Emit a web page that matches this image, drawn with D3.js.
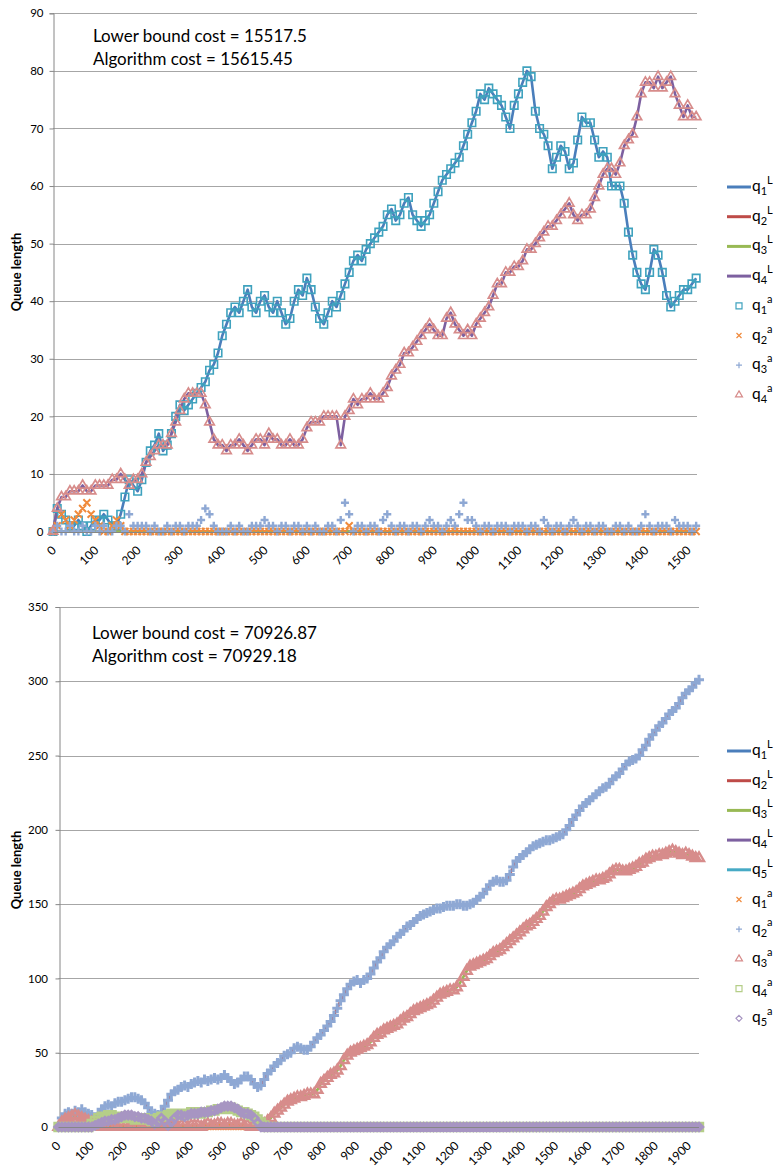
<!DOCTYPE html>
<html><head><meta charset="utf-8">
<script src="https://cdn.jsdelivr.net/npm/d3@7"></script>
<style>body{margin:0;background:#fff}svg{display:block}text{font-family:Lato,"Open Sans",sans-serif;fill:#000}</style>
</head><body><svg id="c" width="776" height="1167"></svg>
<script>
// ---------------- DATA (sampled every 10 time steps) ----------------
const topStep = 10;
const topYTicks = [0,10,20,30,40,50,60,70,80,90];
const topXTicks = [0,100,200,300,400,500,600,700,800,900,1000,1100,1200,1300,1400,1500];
const topText = ["Lower bound cost = 15517.5", "Algorithm cost = 15615.45"];
const topQ1 = [
0,4,3,2,1,1,2,1,0,1, 2,2,3,2,1,1,3,6,9,8, 7,9,12,14,15,17,14,15,17,20,
22,21,22,23,24,25,26,28,29,31, 34,36,38,39,38,40,42,39,38,40, 41,39,38,40,38,36,37,40,42,41,
44,42,39,37,36,38,40,39,41,43, 45,47,48,47,49,50,51,52,53,55, 56,54,55,57,58,55,54,53,54,55,
57,59,61,62,63,64,65,67,69,71, 73,76,75,77,76,75,74,72,70,74, 76,78,80,79,73,70,69,67,63,65,
67,66,63,64,68,72,71,71,68,65, 66,65,60,60,60,57,52,48,45,43, 42,45,49,48,45,41,39,40,41,42,
42,43,44];
// lower-bound solution keeps q2 and q3 empty
const topQ2L = [
0,0,0,0,0,0,0,0,0,0, 0,0,0,0,0,0,0,0,0,0, 0,0,0,0,0,0,0,0,0,0,
0,0,0,0,0,0,0,0,0,0, 0,0,0,0,0,0,0,0,0,0, 0,0,0,0,0,0,0,0,0,0,
0,0,0,0,0,0,0,0,0,0, 0,0,0,0,0,0,0,0,0,0, 0,0,0,0,0,0,0,0,0,0,
0,0,0,0,0,0,0,0,0,0, 0,0,0,0,0,0,0,0,0,0, 0,0,0,0,0,0,0,0,0,0,
0,0,0,0,0,0,0,0,0,0, 0,0,0,0,0,0,0,0,0,0, 0,0,0,0,0,0,0,0,0,0,
0,0,0];
const topQ3L = topQ2L;
const topQ2 = [
0,1,3,2,1,2,3,4,5,3, 2,1,0,0,1,2,1,0,0,0, 0,0,0,0,0,0,0,0,0,0,
0,0,0,0,0,0,0,0,0,0, 0,0,0,0,0,0,0,0,0,0, 0,0,0,0,0,0,0,0,0,0,
0,0,0,0,0,0,0,0,0,0, 1,0,0,0,0,0,0,0,0,0, 0,0,0,0,0,0,0,0,0,0,
0,0,0,0,0,0,0,0,0,0, 0,0,0,0,0,0,0,0,0,0, 0,0,0,0,0,0,0,0,0,0,
0,0,0,0,0,0,0,0,0,0, 0,0,0,0,0,0,0,0,0,0, 0,0,0,0,0,0,0,0,0,0,
0,0,0];
const topQ3 = [
0,1,0,0,1,0,0,1,0,0, 1,0,1,0,0,1,1,0,3,1, 1,1,1,0,1,0,0,1,0,1,
1,0,1,1,1,2,4,3,1,0, 0,0,1,0,1,0,0,1,1,1, 2,1,1,0,1,1,0,1,1,0,
1,0,1,0,0,1,1,0,2,5, 3,0,1,1,0,1,1,0,2,3, 1,0,1,1,0,1,1,0,1,2,
1,1,0,1,2,1,3,5,2,2, 1,0,1,1,0,1,1,1,0,1, 1,1,0,1,1,0,2,1,0,1,
1,0,1,2,1,0,1,1,0,1, 1,0,0,1,1,0,1,0,0,1, 3,1,0,1,1,1,0,2,1,1,
1,0,1];
const topQ4 = [
0,4,6,6,7,7,7,8,7,7, 8,8,8,8,9,9,10,9,8,9, 9,10,12,13,14,15,15,15,17,19,
21,23,24,24,24,24,22,19,16,15, 15,14,15,15,16,15,14,15,16,16, 15,17,16,16,15,15,16,15,15,16,
18,19,19,19,20,20,20,20,15,20, 21,23,22,23,23,24,23,23,24,25, 27,28,29,31,31,32,33,34,35,36,
35,34,34,37,38,36,35,34,35,34, 36,37,38,39,41,43,43,45,45,46, 46,47,49,49,50,51,52,53,53,54,
55,56,57,55,54,55,55,56,58,60, 62,63,63,62,64,67,68,69,72,76, 78,78,77,79,77,78,79,76,74,72,
74,72,72];

const botStep = 10;
const botYTicks = [0,50,100,150,200,250,300,350];
const botXTicks = [0,100,200,300,400,500,600,700,800,900,1000,1100,1200,1300,1400,1500,1600,1700,1800,1900];
const botText = ["Lower bound cost  = 70926.87", "Algorithm  cost = 70929.18"];
const botQ1 = [
0,0,0,0,0,0,0,0,0,0, 0,0,0,0,0,0,0,0,0,0, 0,0,0,0,0,0,0,0,0,0, 0,0,0,0,0,0,0,0,0,0,
0,0,0,0,0,0,0,0,0,0, 0,0,0,0,0,0,0,0,0,0, 0,0,0,0,0,0,0,0,0,0, 0,0,0,0,0,0,0,0,0,0,
0,0,0,0,0,0,0,0,0,0, 0,0,0,0,0,0,0,0,0,0, 0,0,0,0,0,0,0,0,0,0, 0,0,0,0,0,0,0,0,0,0,
0,0,0,0,0,0,0,0,0,0, 0,0,0,0,0,0,0,0,0,0, 0,0,0,0,0,0,0,0,0,0, 0,0,0,0,0,0,0,0,0,0,
0,0,0,0,0,0,0,0,0,0, 0,0,0,0,0,0,0,0,0,0, 0,0,0,0,0,0,0,0,0,0, 0,0,0,0];
const botQ2 = [
0,6,9,10,9,11,10,12,10,9, 8,6,9,12,14,15,14,16,17,17, 18,19,20,20,19,18,16,13,10,9,
8,10,14,18,22,24,25,27,28,27, 29,30,31,30,32,31,32,33,32,33, 35,33,31,29,30,32,34,34,32,29,
27,28,32,36,38,41,43,45,48,49, 50,53,54,53,52,52,54,57,60,62, 65,68,71,75,80,85,89,93,96,98,
99,97,99,100,103,107,111,114,118,121, 123,125,128,130,132,135,136,138,140,142,
143,144,145,146,147,147,148,149,149,149, 150,150,149,149,150,151,153,155,157,160,
163,165,166,165,165,166,170,175,179,181, 183,185,187,189,190,191,192,193,193,194,
195,196,197,200,203,207,210,213,216,218, 220,222,224,226,228,229,231,234,236,238,
241,244,246,247,248,250,254,257,261,264, 267,270,272,275,278,280,282,285,289,292,
294,296,299,301];
const botQ3 = [
0,3,5,6,7,8,7,6,5,4, 3,2,1,0,0,1,1,0,0,1, 1,0,0,1,1,0,0,1,0,0,
1,1,0,0,1,1,0,1,1,0, 1,1,1,0,1,2,1,1,2,2, 1,2,2,1,1,2,1,1,0,1,
0,1,2,4,6,9,11,13,15,17, 18,19,20,20,21,22,22,22,25,29, 31,33,35,36,38,41,45,48,50,51,
52,53,54,55,57,60,62,63,65,66, 67,68,69,71,73,74,76,78,79,80, 81,82,83,85,87,89,90,91,92,92,
94,97,101,105,108,109,110,111,112,113, 115,117,118,119,121,123,125,127,129,131,
133,135,136,138,140,142,145,148,150,152, 153,153,154,155,156,157,158,160,162,163,
164,165,166,166,167,168,170,172,173,173, 172,172,173,174,175,177,178,180,181,182,
182,183,183,184,185,186,185,184,183,184, 183,182,181,181];
const botQ4 = [
0,0,0,0,0,0,0,0,0,0, 2,4,6,7,7,8,8,7,7,6, 6,6,6,5,5,6,6,5,4,5,
6,7,7,8,9,9,9,8,8,9, 10,10,9,9,10,10,11,11,12,12, 12,13,13,12,11,10,10,9,8,7,
5,3,1,0,0,0,0,0,0,0, 0,0,0,0,0,0,0,0,0,0, 0,0,0,0,0,0,0,0,0,0, 0,0,0,0,0,0,0,0,0,0,
0,0,0,0,0,0,0,0,0,0, 0,0,0,0,0,0,0,0,0,0, 0,0,0,0,0,0,0,0,0,0, 0,0,0,0,0,0,0,0,0,0,
0,0,0,0,0,0,0,0,0,0, 0,0,0,0,0,0,0,0,0,0, 0,0,0,0,0,0,0,0,0,0, 0,0,0,0,0,0,0,0,0,0,
0,0,0,0,0,0,0,0,0,0, 0,0,0,0];
const botQ5 = [
0,0,0,0,0,0,0,0,0,0, 0,1,2,3,4,4,5,5,6,7, 8,8,8,7,7,6,6,5,4,2,
3,6,4,1,3,6,8,8,7,8, 9,9,9,10,10,10,11,11,12,13, 14,14,14,13,12,10,9,9,8,6,
3,0,0,0,0,0,0,0,0,0, 0,0,0,0,0,0,0,0,0,0, 0,0,0,0,0,0,0,0,0,0, 0,0,0,0,0,0,0,0,0,0,
0,0,0,0,0,0,0,0,0,0, 0,0,0,0,0,0,0,0,0,0, 0,0,0,0,0,0,0,0,0,0, 0,0,0,0,0,0,0,0,0,0,
0,0,0,0,0,0,0,0,0,0, 0,0,0,0,0,0,0,0,0,0, 0,0,0,0,0,0,0,0,0,0, 0,0,0,0,0,0,0,0,0,0,
0,0,0,0,0,0,0,0,0,0, 0,0,0,0];

// ---------------- STYLE ----------------
const C = {blue:"#4A7EBB", red:"#BE4B48", green:"#98B954", purple:"#7D60A0", aqua:"#46AAC5",
  teal:"#3FA2BE", orange:"#F08A3C", ltblue:"#8EA8D4", pink:"#D78C8B", ltgreen:"#B5CE88", lav:"#A795C2"};

const shapes = {
  square:(x,y,s)=>`M${x-s/2},${y-s/2}h${s}v${s}h${-s}Z`,
  times:(x,y,s)=>`M${x-s/2},${y-s/2}L${x+s/2},${y+s/2}M${x-s/2},${y+s/2}L${x+s/2},${y-s/2}`,
  plus:(x,y,s)=>`M${x-s/2},${y}H${x+s/2}M${x},${y-s/2}V${y+s/2}`,
  triangle:(x,y,s)=>{const h=s*0.866;return `M${x},${y-h*2/3}L${x+s/2},${y+h/3}L${x-s/2},${y+h/3}Z`;},
  diamond:(x,y,s)=>`M${x},${y-s/2}L${x+s/2},${y}L${x},${y+s/2}L${x-s/2},${y}Z`
};

const svg = d3.select("#c");

function drawChart(cfg){
  const g = svg.append("g");
  const x = d3.scaleLinear().domain(cfg.xDomain).range(cfg.xRange);
  const y = d3.scaleLinear().domain(cfg.yDomain).range(cfg.yRange);
  const y0 = Math.round(y(0))+0.5;
  g.selectAll("line.grid").data(cfg.yTicks.slice(1)).join("line")
    .attr("x1",cfg.xRange[0]).attr("x2",cfg.xRange[1])
    .attr("y1",d=>Math.round(y(d))+0.5).attr("y2",d=>Math.round(y(d))+0.5)
    .attr("stroke","#A6A6A6").attr("stroke-width",1);
  const ya = g.append("g").attr("transform",`translate(${Math.round(cfg.xRange[0])+0.5},0)`)
    .call(d3.axisLeft(y).tickValues(cfg.yTicks).tickSize(4).tickPadding(cfg.yPad).tickFormat(d3.format("d")));
  ya.select(".domain").attr("stroke","#868686");
  ya.selectAll(".tick line").attr("stroke","#868686");
  ya.selectAll(".tick text").attr("font-size",11.5).attr("font-family","Lato").attr("fill","#222");
  const line = d3.line().x((d,i)=>x(i*cfg.step)).y(d=>y(d));
  cfg.lines.forEach(s=>{
    g.append("path").datum(s.data).attr("d",line).attr("fill","none")
      .attr("stroke",s.color).attr("stroke-width",2.6).attr("stroke-linejoin","round");
  });
  cfg.markers.forEach(s=>{
    const d = s.data.map((v,i)=>shapes[s.shape](x(i*cfg.step),y(v),s.size)).join("");
    g.append("path").attr("d",d).attr("fill","none").attr("stroke",s.color)
      .attr("stroke-width",s.sw);
  });
  g.append("line").attr("x1",cfg.xRange[0]).attr("x2",cfg.xRange[1])
    .attr("y1",y0).attr("y2",y0).attr("stroke","#868686");
  g.selectAll("text.xt").data(cfg.xTicks).join("text")
    .attr("text-anchor","end").attr("font-size",12).attr("fill","#222")
    .attr("transform",d=>`translate(${x(d)+cfg.xLabDx},${y(0)+19.5}) rotate(-45)`)
    .text(d=>d);
  cfg.text.forEach((t,i)=>{
    const tx = g.append("text").attr("x",cfg.textX).attr("y",cfg.textY[i]).attr("font-size",16).text(t);
    const w = tx.node().getComputedTextLength();
    tx.attr("font-size",16*cfg.textW[i]/w);
  });
  g.append("text").attr("transform",`translate(21,${cfg.titleY}) rotate(-90)`)
    .attr("text-anchor","middle").attr("font-weight","bold").attr("font-size",13).text("Queue length");
  cfg.legend.forEach((e,i)=>{
    const ly = cfg.legendY + i*cfg.legendDY;
    if(e.line){
      g.append("line").attr("x1",727).attr("x2",751).attr("y1",ly).attr("y2",ly)
        .attr("stroke",e.color).attr("stroke-width",3);
    } else {
      g.append("path").attr("d",shapes[e.shape](739,ly,e.size)).attr("fill","none")
        .attr("stroke",e.color).attr("stroke-width",1.2);
    }
    const t = g.append("text").attr("x",752).attr("y",ly+4).attr("font-size",15.5);
    t.append("tspan").text("q");
    t.append("tspan").attr("font-size",11).attr("dy",4).text(e.n);
    t.append("tspan").attr("font-size",11).attr("dy",-11).text(e.sup);
  });
}

drawChart({
  step: topStep, xDomain:[0,1522], xRange:[53,697], yDomain:[0,90], yRange:[531.5,13.3],
  yTicks: topYTicks, xTicks: topXTicks, yPad: 6, xLabDx: 4,
  text: topText, textX: 93, textY:[42,65], textW:[214,200], titleY: 272,
  lines:[{data:topQ1,color:C.blue},{data:topQ2L,color:C.red},{data:topQ3L,color:C.green},{data:topQ4,color:C.purple}],
  markers:[
    {data:topQ1,shape:"square",size:7.5,sw:1.6,color:C.teal},
    {data:topQ2,shape:"times",size:7,sw:2,color:C.orange},
    {data:topQ3,shape:"plus",size:8,sw:2.4,color:C.ltblue},
    {data:topQ4,shape:"triangle",size:9.5,sw:1.7,color:C.pink}],
  legendY:187, legendDY:29.7,
  legend:[
    {line:true,color:C.blue,n:"1",sup:"L"},{line:true,color:C.red,n:"2",sup:"L"},
    {line:true,color:C.green,n:"3",sup:"L"},{line:true,color:C.purple,n:"4",sup:"L"},
    {shape:"square",size:6,color:C.teal,n:"1",sup:"a"},{shape:"times",size:5,color:C.orange,n:"2",sup:"a"},
    {shape:"plus",size:6,color:C.ltblue,n:"3",sup:"a"},{shape:"triangle",size:7,color:C.pink,n:"4",sup:"a"}]
});

drawChart({
  step: botStep, xDomain:[0,1930], xRange:[58.5,699], yDomain:[0,350], yRange:[1127,607],
  yTicks: botYTicks, xTicks: botXTicks, yPad: 7.5, xLabDx: 3,
  text: botText, textX: 92, textY:[639,662], textW:[225,205], titleY: 870,
  lines:[{data:botQ1,color:C.blue},{data:botQ2,color:C.red},{data:botQ3,color:C.green},{data:botQ4,color:C.purple},{data:botQ5,color:C.aqua}],
  markers:[
    {data:botQ1,shape:"times",size:6,sw:1.5,color:C.orange},
    {data:botQ2,shape:"plus",size:10,sw:3,color:C.ltblue},
    {data:botQ3,shape:"triangle",size:10,sw:2.4,color:C.pink},
    {data:botQ4,shape:"square",size:8,sw:2.4,color:C.ltgreen},
    {data:botQ5,shape:"diamond",size:8,sw:2.6,color:C.lav}],
  legendY:751, legendDY:29.7,
  legend:[
    {line:true,color:C.blue,n:"1",sup:"L"},{line:true,color:C.red,n:"2",sup:"L"},
    {line:true,color:C.green,n:"3",sup:"L"},{line:true,color:C.purple,n:"4",sup:"L"},
    {line:true,color:C.aqua,n:"5",sup:"L"},
    {shape:"times",size:5,color:C.orange,n:"1",sup:"a"},{shape:"plus",size:6,color:C.ltblue,n:"2",sup:"a"},
    {shape:"triangle",size:7,color:C.pink,n:"3",sup:"a"},{shape:"square",size:6,color:C.ltgreen,n:"4",sup:"a"},
    {shape:"diamond",size:6,color:C.lav,n:"5",sup:"a"}]
});
</script></body></html>
